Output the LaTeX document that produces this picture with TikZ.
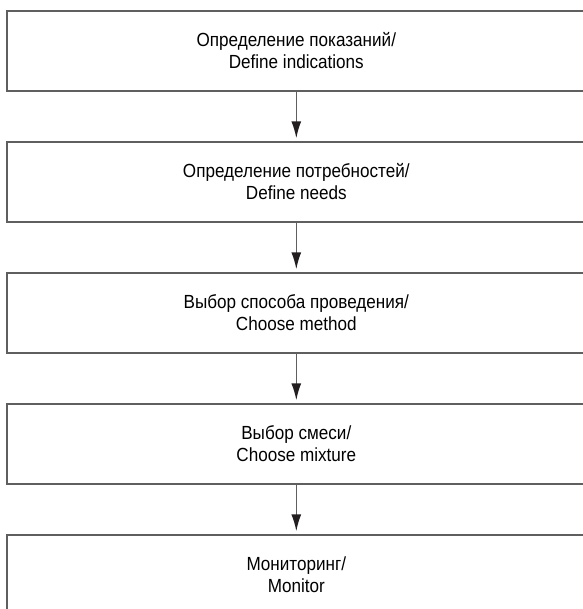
\documentclass[tikz,border=0pt]{standalone}
\usepackage{fontspec}
\setmainfont[FakeStretch=0.9]{Liberation Sans}
\usepackage{xcolor}
\usetikzlibrary{arrows.meta,positioning}
\definecolor{rahmen}{RGB}{95,95,95}
\definecolor{spitze}{RGB}{35,31,32}

\begin{document}
\begin{tikzpicture}[x=1pt,y=1pt,
  schritt/.style={draw=rahmen,line width=2pt,outer sep=0pt,inner sep=0pt,
    minimum width=578pt,minimum height=80pt,align=center,
    font=\fontsize{19}{22.5}\selectfont},
  pfeil/.style={draw=rahmen,line width=1.5pt,
    -{Latex[length=17pt,width=10pt,color=spitze]},shorten >=3.4pt}]
  \useasboundingbox (0,0) rectangle (582,609);

  % steps
  \node[schritt] (indik) at (296.3,558.3) {Определение показаний/\\Define indications};
  \node[schritt,below=51pt of indik] (bedarf) {Определение потребностей/\\Define needs};
  \node[schritt,below=51pt of bedarf] (methode) {Выбор способа проведения/\\Choose method};
  \node[schritt,below=51pt of methode] (mischung) {Выбор смеси/\\Choose mixture};
  \node[schritt,below=51pt of mischung] (monitor) {Мониторинг/\\Monitor};

  % arrows
  \draw[pfeil] (indik) -- (bedarf);
  \draw[pfeil] (bedarf) -- (methode);
  \draw[pfeil] (methode) -- (mischung);
  \draw[pfeil] (mischung) -- (monitor);
\end{tikzpicture}
\end{document}
